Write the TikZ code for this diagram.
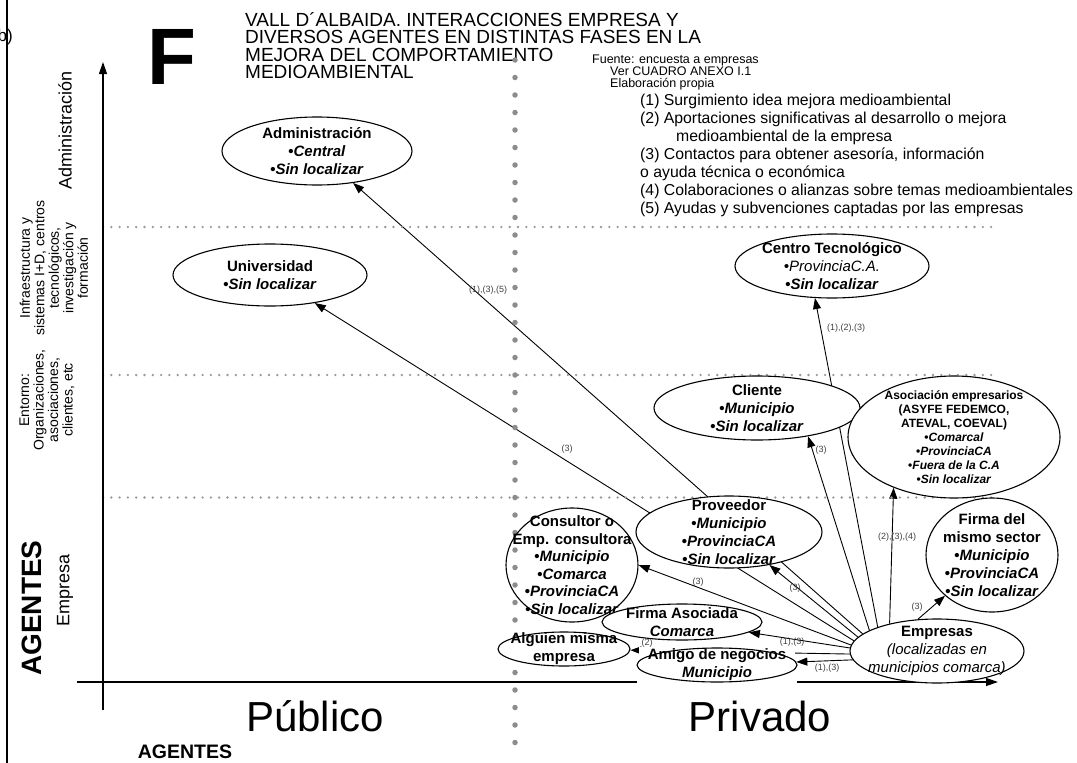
\documentclass[tikz,border=0pt]{standalone}
\usepackage{fontspec}
\setmainfont{Liberation Sans}
\usetikzlibrary{arrows.meta,positioning,shapes.geometric,backgrounds}

\newcommand{\fsz}[2]{\fontsize{#1}{#2}\selectfont}

\begin{document}
\begin{tikzpicture}[x=1pt,y=-1pt,
  bub/.style={ellipse,draw,fill=white,inner sep=0pt,line width=1.1pt},
  bubtxt/.style={align=center,font=\fsz{15}{18}\bfseries,inner sep=0pt},
  conn/.style={-{Triangle[length=11pt,width=8pt]},line width=0.9pt},
  tag/.style={font=\fsz{9}{10},text=black!75,inner sep=0pt},
  smalldots/.style={draw=black!40,line width=2.6pt,line cap=round,dash pattern=on 0pt off 8.3pt},
  bigdots/.style={draw=black!45,line width=5.5pt,line cap=round,dash pattern=on 0pt off 17.5pt},
  sidelab/.style={rotate=90,align=center,inner sep=0pt},
  axis/.style={line width=1.2pt}]
\useasboundingbox (0,0) rectangle (1077,763);

% frame and headings
\draw[line width=2pt] (7,0) -- (7,763);
\node[anchor=east,font=\fsz{17}{17},inner sep=0pt] (blab) at (13,37) {b)};
\node[font=\fsz{80}{80}\bfseries,inner sep=0pt] (bigf) at (172,57) {F};
\node[anchor=north west,align=left,inner sep=0pt,font=\fsz{19}{17.5}] (title) at (245,12)
  {VALL D´ALBAIDA. INTERACCIONES EMPRESA Y\\DIVERSOS AGENTES EN DISTINTAS FASES EN LA\\MEJORA DEL COMPORTAMIENTO\\MEDIOAMBIENTAL};
\node[anchor=north west,align=left,inner sep=0pt,font=\fsz{12.5}{12}] (src) at (592,55)
  {Fuente: encuesta a empresas\\\hspace*{18pt}Ver CUADRO ANEXO I.1\\\hspace*{18pt}Elaboración propia};
\node[anchor=north west,align=left,inner sep=0pt,font=\fsz{15.8}{18}] (legend) at (640,94)
  {(1) Surgimiento idea mejora medioambiental\\
   (2) Aportaciones significativas al desarrollo o mejora\\
   \hspace*{36pt}medioambiental de la empresa\\
   (3) Contactos para obtener asesoría, información\\
   o ayuda técnica o económica\\
   (4) Colaboraciones o alianzas sobre temas medioambientales\\
   (5) Ayudas y subvenciones captadas por las empresas};

% grid and axes
\draw[smalldots] (103,227) -- (998,227);
\draw[smalldots] (103,375) -- (998,375);
\draw[smalldots] (103,497.5) -- (998,497.5);
\draw[bigdots] (515,60) -- (515,745);
\draw[axis,-{Triangle[length=12pt,width=8pt]}] (103,710) -- (103,62);
\draw[axis] (77,682) -- (637,682);
\draw[axis,-{Triangle[length=12pt,width=8pt]}] (797,682) -- (998,682);

% axis labels
\node[sidelab,font=\fsz{18}{18}] (ladm) at (65,130) {Administración};
\node[sidelab,font=\fsz{14}{14.5}] (linf) at (54,268)
  {Infraestructura y\\sistemas I+D, centros\\tecnológicos,\\investigación y\\formación};
\node[sidelab,font=\fsz{14}{14.5}] (lent) at (47,400)
  {Entorno:\\Organizaciones,\\asociaciones,\\clientes, etc};
\node[sidelab,font=\fsz{18}{18}] (lemp) at (65,590) {Empresa};
\node[sidelab,font=\fsz{28}{28}\bfseries] (lagv) at (32,608) {AGENTES};
\node[font=\fsz{42}{42},inner sep=0pt] (lpub) at (315,716) {Público};
\node[font=\fsz{42}{42},inner sep=0pt] (lpriv) at (760,716) {Privado};
\node[font=\fsz{19.5}{20}\bfseries,inner sep=0pt] (lagh) at (185,752) {AGENTES};

% agents
\node[bub,minimum width=190pt,minimum height=68pt,
  label={[bubtxt]center:{Administración\\•\textit{Central}\\•\textit{Sin localizar}}}] (admin) at (317,151) {};
\node[bub,minimum width=194pt,minimum height=62pt,
  label={[bubtxt]center:{Universidad\\•\textit{Sin localizar}}}] (univ) at (270,275) {};
\node[bub,minimum width=194pt,minimum height=64pt,
  label={[bubtxt]center:{Centro Tecnológico\\\textit{\mdseries•ProvinciaC.A.}\\•\textit{Sin localizar}}}] (centro) at (832,266) {};
\node[bub,minimum width=206pt,minimum height=64pt,
  label={[bubtxt]center:{Cliente\\•\textit{Municipio}\\•\textit{Sin localizar}}}] (cliente) at (757,408) {};
\node[bub,minimum width=212pt,minimum height=122pt,
  label={[bubtxt,font=\fsz{12}{14}\bfseries]center:{Asociación empresarios\\(ASYFE FEDEMCO,\\ATEVAL, COEVAL)\\•\textit{Comarcal}\\•\textit{ProvinciaCA}\\•\textit{Fuera de la C.A}\\•\textit{Sin localizar}}}] (asoc) at (954,437) {};
\node[bub,minimum width=186pt,minimum height=72pt,
  label={[bubtxt]center:{Proveedor\\•\textit{Municipio}\\•\textit{ProvinciaCA}\\•\textit{Sin localizar}}}] (prov) at (729,532) {};
\node[bub,fill=none,minimum width=132pt,minimum height=114pt,
  label={[bubtxt,font=\fsz{15}{17.5}\bfseries]center:{Consultor o\\Emp. consultora\\•\textit{Municipio}\\•\textit{Comarca}\\•\textit{ProvinciaCA}\\•\textit{Sin localizar}}}] (cons) at (572,565) {};
\node[bub,minimum width=160pt,minimum height=36pt,
  label={[bubtxt]center:{Firma Asociada\\\textit{Comarca}}}] (fa) at (682,622) {};
\node[bub,minimum width=132pt,minimum height=34pt,
  label={[bubtxt]center:{Alguien misma\\empresa}}] (alg) at (564,649) {};
\node[bub,minimum width=160pt,minimum height=34pt,
  label={[bubtxt]center:{Amigo de negocios\\\textit{Municipio}}}] (amigo) at (717,665) {};
\node[bub,minimum width=132pt,minimum height=114pt,
  label={[bubtxt]center:{Firma del\\mismo sector\\•\textit{Municipio}\\•\textit{ProvinciaCA}\\•\textit{Sin localizar}}}] (fsec) at (992,555) {};
\node[bub,minimum width=174pt,minimum height=64pt,
  label={[bubtxt]center:{Empresas\\\textit{\mdseries(localizadas en}\\\textit{\mdseries municipios comarca)}}}] (emp) at (937,651) {};

% interactions
\begin{scope}[on background layer]
\draw[conn] (emp.167) -- (admin);
\draw[conn] (emp.173) -- (univ);
\draw[conn] (emp.158) -- (centro.-118);
\draw[conn] (emp.163) -- (cliente.-29);
\draw[conn] (emp.150) -- (asoc.-140);
\draw[conn] (emp.121) -- (fsec);
\draw[conn] (emp.170) -- (prov);
\draw[conn] (emp.176) -- (cons.east);
\draw[conn] (emp.178) -- (fa);
\draw[conn] (emp.182) -- (alg);
\draw[conn] (emp.186) -- (amigo);
% white box of the amigo text
\fill[white] ([xshift=3pt]amigo.west |- amigo.north) rectangle ([xshift=-3pt]amigo.east |- amigo.south);
\end{scope}

\node[tag] (tadmin) at (488,290) {(1),(3),(5)};
\node[tag] (tuniv) at (567,449) {(3)};
\node[tag] (tcentro) at (846,328) {(1),(2),(3)};
\node[tag] (tcliente) at (821,450) {(3)};
\node[tag] (tasoc) at (897,537) {(2),(3),(4)};
\node[tag] (tfsec) at (917,607) {(3)};
\node[tag] (tprov) at (795,588) {(3)};
\node[tag] (tcons) at (698,582) {(3)};
\node[tag] (tfa) at (792,642) {(1),(3)};
\node[tag] (tamigo) at (827,668) {(1),(3)};
\node[tag] (talg) at (647,643) {(2)};
\end{tikzpicture}
\end{document}
